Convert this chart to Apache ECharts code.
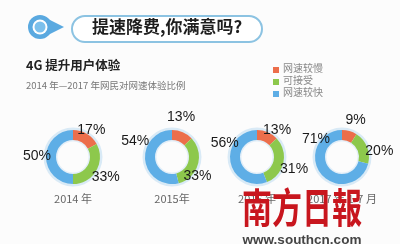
<!DOCTYPE html>
<html><head><meta charset="utf-8">
<script src="https://cdn.jsdelivr.net/npm/echarts@6/dist/echarts.min.js"></script>
<style>html,body{margin:0;padding:0;background:#fcfcfc}#c{width:400px;height:244px}</style>
</head><body><div id="c"></div>
<script>
var categories = ['网速较慢', '可接受', '网速较快'];
var years = ['2014 年', '2015年', '2016 年', '2017 年 1-7 月'];
var slow = [17, 13, 13, 9];
var ok = [33, 33, 31, 20];
var fast = [50, 54, 56, 71];
var colors = ['#ec6e4b', '#8dc84c', '#5eaee6'];
var centersX = [73, 172, 257, 342];
var centerY = 157;
// small nudges of each percentage label (slow, ok, fast) away from its default spot
var labelNudge = [
  [[-1, 6], [0, 1], [2, -1]],
  [[-6, -5], [-11, 9], [1, -21]],
  [[5, 8], [0, 4], [5, -21]],
  [[3, 0], [2, 8], [4, -41]]
];

var chart = echarts.init(document.getElementById('c'), null, {renderer: 'canvas'});
var series = [];
years.forEach(function (y, i) {
  var vals = [slow[i], ok[i], fast[i]];
  var data = vals.map(function (v, k) { return {name: categories[k], value: v}; });
  var labelData = vals.map(function (v, k) {
    return {name: categories[k], value: v, label: {offset: labelNudge[i][k]}};
  });
  var c = [centersX[i], centerY];
  series.push({
    type: 'pie', silent: true, center: c, radius: [25, 29.5], startAngle: 90, clockwise: true,
    label: {show: false}, labelLine: {show: false}, z: 1,
    itemStyle: {color: '#d9eaf6'}, data: [{value: 1}]
  });
  series.push({
    type: 'pie', silent: true, center: c, radius: [15.5, 17.5], startAngle: 90,
    label: {show: false}, labelLine: {show: false}, z: 1,
    itemStyle: {color: '#e2eef8'}, data: [{value: 1}]
  });
  series.push({
    type: 'pie', silent: true, center: c, radius: [17, 27], startAngle: 90, clockwise: true,
    label: {show: false}, labelLine: {show: false}, z: 2,
    itemStyle: {color: function (p) { return colors[p.dataIndex]; }},
    data: data
  });
  series.push({
    type: 'pie', silent: true, center: c, radius: [28, 42], startAngle: 90, clockwise: true,
    labelLine: {show: false}, z: 3,
    itemStyle: {color: 'rgba(0,0,0,0)'},
    label: {show: true, position: 'inside', formatter: '{c}%', color: '#1a1a1a',
      fontSize: 14, fontFamily: 'Liberation Sans, Arial, sans-serif'},
    data: labelData
  });
});

var graphics = [
  {type: 'circle', shape: {cx: 40, cy: 27, r: 12}, style: {fill: '#5aa9e0'}},
  {type: 'polygon', shape: {points: [[48, 19], [64, 27], [48, 35]]}, style: {fill: '#5aa9e0'}},
  {type: 'circle', shape: {cx: 40, cy: 27, r: 7.5}, style: {fill: '#ffffff'}},
  {type: 'circle', shape: {cx: 40, cy: 27, r: 5.5}, style: {fill: '#7cc0ec'}},
  {type: 'rect', shape: {x: 72, y: 16, width: 190, height: 26, r: 13},
    style: {fill: '#ffffff', stroke: '#8cc3e2', lineWidth: 2}},
  {type: 'text', left: 92, top: 18, style: {text: '提速降费,你满意吗?', font: 'bold 17px "Noto Sans CJK SC", sans-serif', fill: '#1e1e1e'}},
  {type: 'text', left: 26, top: 59, style: {text: '4G 提升用户体验', font: 'bold 12.5px "Noto Sans CJK SC", sans-serif', fill: '#222'}},
  {type: 'text', left: 26, top: 81, style: {text: '2014 年—2017 年网民对网速体验比例', font: '9.5px "Noto Sans CJK SC", sans-serif', fill: '#777'}}
];
categories.forEach(function (n, k) {
  graphics.push({type: 'rect', shape: {x: 273, y: 67 + k * 12, width: 6, height: 6}, style: {fill: colors[k]}});
  graphics.push({type: 'text', left: 283, top: 63 + k * 12, style: {text: n, font: '10px "Noto Sans CJK SC", sans-serif', fill: '#888'}});
});
years.forEach(function (y, i) {
  graphics.push({type: 'text', x: centersX[i], y: 199, style: {text: y, align: 'center', verticalAlign: 'middle', font: '11px "Noto Sans CJK SC", sans-serif', fill: '#666'}});
});
graphics.push({type: 'text', x: 302, y: 208, scaleY: 1.35, z: 10, style: {text: '南方日報', align: 'center', verticalAlign: 'middle', font: 'bold 30px "Noto Sans CJK TC", serif', fill: '#c8161e'}});
graphics.push({type: 'text', x: 302, y: 240, z: 10, style: {text: 'www.southcn.com', align: 'center', verticalAlign: 'middle', font: 'bold 13.5px "Liberation Sans", Arial, sans-serif', fill: '#444'}});

chart.setOption({
  backgroundColor: '#fcfcfc',
  animation: false,
  series: series,
  graphic: graphics
});
</script></body></html>
